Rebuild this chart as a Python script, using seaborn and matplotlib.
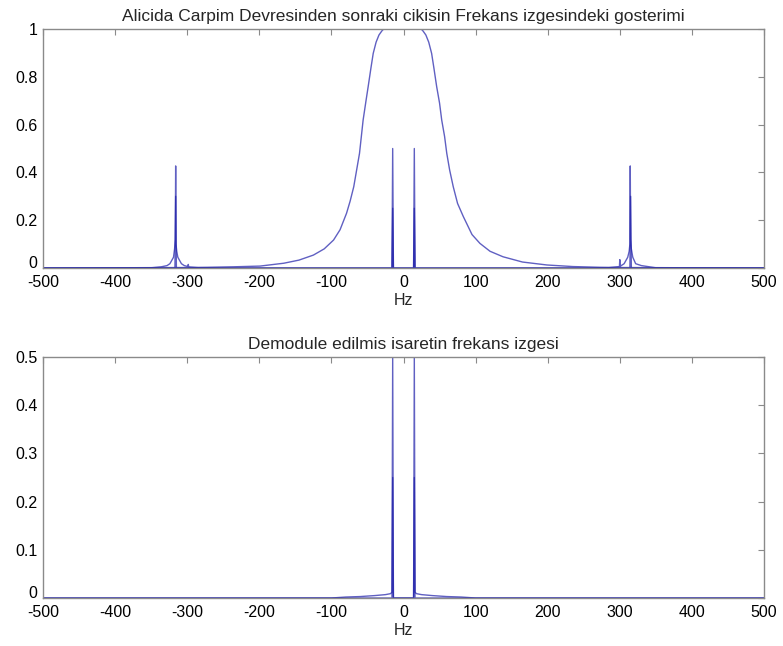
import numpy as np
import pandas as pd
import matplotlib
matplotlib.use("Agg")
import matplotlib.pyplot as plt
import matplotlib.transforms as mtransforms
import seaborn as sns

# ---------------- data ----------------
# top: broad response curve
filt_freq = [-500, -400, -300, -272, -236, -199, -166, -145, -125, -110, -97, -88, -79, -74, -69,
             -65, -61, -56, -52, -49, -45, -42, -38, -34, -30, -26, -15, 0, 15, 23, 27, 31, 35,
             39, 42, 46, 50, 53, 57, 60, 64, 69, 75, 83, 95, 106, 120, 138, 165, 199, 235, 272,
             300, 400, 500]
filt_mag = [0.0005, 0.001, 0.002, 0.003, 0.005, 0.008, 0.02, 0.033, 0.054, 0.08, 0.117, 0.16,
            0.229, 0.28, 0.34, 0.41, 0.48, 0.619, 0.70, 0.759, 0.84, 0.898, 0.945, 0.975, 0.992,
            1.005, 1.06, 1.09, 1.06, 1.005, 0.992, 0.975, 0.945, 0.898, 0.84, 0.759, 0.69, 0.619,
            0.55, 0.48, 0.41, 0.34, 0.27, 0.215, 0.14, 0.103, 0.07, 0.047, 0.025, 0.0126, 0.006,
            0.003, 0.002, 0.001, 0.0005]

# top: spectrum (full-height spikes)
spec_top_freq = [-500, -350, -336, -328, -324, -319, -317.5, -316.5, -316, -315.5, -314.5, -313,
                 -308, -304, -299, -298.5, -298, -296, -284, -250, -100, -16, -15, -14, 14, 15, 16,
                 100, 250, 284, 299.5, 300, 300.5, 302, 306, 311, 313, 314, 314.5, 315, 316,
                 318, 322, 330, 350, 500]
spec_top_mag = [0, 0.001, 0.005, 0.01, 0.018, 0.045, 0.08, 0.12, 0.427, 0.10, 0.07, 0.045,
                0.018, 0.01, 0.006, 0.015, 0.005, 0.004, 0.001, 0.0, 0.0, 0.0, 0.5, 0.0, 0.0, 0.5, 0.0,
                0.0, 0.0, 0.001, 0.006, 0.035, 0.006, 0.01, 0.018, 0.045, 0.07, 0.10, 0.427, 0.12,
                0.08, 0.045, 0.018, 0.01, 0.001, 0]

# top: second spectrum (lower spikes)
spec2_top_freq = [-500, -317, -316, -315, -16, -15, -14, 14, 15, 16, 314, 315, 316, 500]
spec2_top_mag = [0, 0, 0.30, 0, 0, 0.25, 0, 0, 0.25, 0, 0, 0.30, 0, 0]

# bottom: demodulated spectrum
spec_bot_freq = [-500, -100, -80, -60, -40, -25, -18, -16, -15, -14, 0, 14, 15, 16, 18, 25, 40,
                 60, 80, 100, 500]
spec_bot_mag = [0, 0, 0.002, 0.003, 0.005, 0.007, 0.009, 0.012, 0.5, 0.0, 0.0, 0.0, 0.5, 0.012,
                0.009, 0.007, 0.005, 0.003, 0.002, 0, 0]
spec2_bot_freq = [-500, -16, -15, -14, 14, 15, 16, 500]
spec2_bot_mag = [0, 0, 0.25, 0, 0, 0.25, 0, 0]

x_ticks = [-500, -400, -300, -200, -100, 0, 100, 200, 300, 400, 500]
x_ticklabels = ["-500", "-400", "-300", "-200", "-100", "0", "100", "200", "300", "400", "500"]
top_yticks = [0, 0.2, 0.4, 0.6, 0.8, 1.0]
top_yticklabels = ["0", "0.2", "0.4", "0.6", "0.8", "1"]
bot_yticks = [0, 0.1, 0.2, 0.3, 0.4, 0.5]
bot_yticklabels = ["0", "0.1", "0.2", "0.3", "0.4", "0.5"]

title_top = "Alicida Carpim Devresinden sonraki cikisin Frekans izgesindeki gosterimi"
title_bot = "Demodule edilmis isaretin frekans izgesi"
xlabel = "Hz"

# ---------------- style ----------------
sns.set_theme(style="white")
plt.rcParams["font.family"] = ["Liberation Sans", "DejaVu Sans"]
FS = 11.5
FS_T = 12.5
LINE_C = "#1c1ca8"
SPINE_C = "#8a8a8a"

fig = plt.figure(figsize=(7.83, 6.46), dpi=100)
W, H = 783, 646
ax_top = fig.add_axes([43 / W, 1 - 268 / H, 721 / W, 239 / H])
ax_bot = fig.add_axes([43 / W, 1 - 598 / H, 721 / W, 241 / H])


def draw(ax, series):
    for fx, fy in series:
        df = pd.DataFrame({"f": fx, "m": fy})
        sns.lineplot(data=df, x="f", y="m", ax=ax, color=LINE_C, lw=1.0, alpha=0.7,
                     sort=False, estimator=None, legend=False)


def style(ax, yticks, ylabels, ymax, title):
    ax.set_xlim(-500, 500)
    ax.set_ylim(0, ymax)
    ax.set_xticks(x_ticks)
    ax.set_xticklabels(x_ticklabels)
    ax.set_yticks(yticks)
    ax.set_yticklabels(ylabels)
    ax.tick_params(direction="in", length=4, width=0.8, color=SPINE_C, labelsize=FS,
                   labelcolor="black", top=True, right=True)
    ax.tick_params(axis="x", pad=5)
    ax.tick_params(axis="y", pad=4)
    for s in ax.spines.values():
        s.set_color(SPINE_C)
        s.set_linewidth(1.0)
        s.set_visible(True)
    ax.set_xlabel(xlabel, fontsize=FS, labelpad=2)
    ax.set_ylabel("")
    ax.set_title(title, fontsize=FS_T, pad=6)
    ax.grid(False)
    ax.set_facecolor("white")
    # lift the "0" y label slightly so it does not collide with "-500"
    lbl = ax.get_yticklabels()[0]
    lbl.set_transform(lbl.get_transform() + mtransforms.ScaledTranslation(0, 4 / 72, fig.dpi_scale_trans))


draw(ax_top, [(filt_freq, filt_mag), (spec_top_freq, spec_top_mag), (spec2_top_freq, spec2_top_mag)])
style(ax_top, top_yticks, top_yticklabels, 1.0, title_top)

draw(ax_bot, [(spec_bot_freq, spec_bot_mag), (spec2_bot_freq, spec2_bot_mag)])
style(ax_bot, bot_yticks, bot_yticklabels, 0.5, title_bot)

fig.savefig("out.png", dpi=100, facecolor="white")
